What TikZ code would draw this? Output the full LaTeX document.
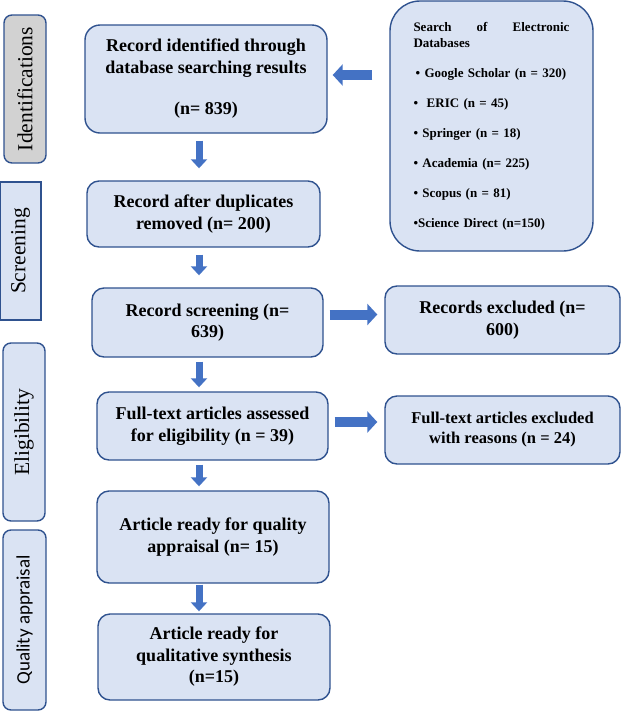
\documentclass[tikz,border=0pt]{standalone}
\usepackage{fontspec}
\setmainfont{Liberation Serif}
\newfontfamily\calibrifont{Carlito}
\usetikzlibrary{positioning,calc,arrows.meta}
\definecolor{BoxBlue}{RGB}{218,227,243}
\definecolor{EdgeBlue}{RGB}{47,82,143}
\definecolor{ArrowBlue}{RGB}{68,114,196}
\definecolor{StageGray}{RGB}{210,210,210}

\begin{document}
\begin{tikzpicture}[
    x=1pt,
    y=-1pt,
    box/.style={
        draw=EdgeBlue,
        line width=1.4pt,
        rounded corners=12pt,
        fill=BoxBlue,
        align=center,
        inner sep=2pt,
        font=\bfseries\fontsize{18}{21.5}\selectfont
    },
    stage/.style={
        draw=EdgeBlue,
        line width=1.4pt,
        rounded corners=8pt,
        fill=BoxBlue,
        rotate=90,
        font=\fontsize{21.5}{24}\selectfont
    },
    blk/.style={
        draw=ArrowBlue,
        line width=7pt,
        -{Triangle[width=16pt,length=9pt]},
        shorten <=4pt,
        shorten >=4pt
    },
    side/.style={
        blk,
        line width=10pt,
        -{Triangle[width=21pt,length=10pt]},
        shorten <=6pt,
        shorten >=7pt
    }
]
\useasboundingbox (0,0) rectangle (641,713);

\node[stage, fill=StageGray, minimum width=148pt, minimum height=42pt] (ident) at (25,89) {Identifications};
\node[stage, sharp corners, minimum width=138pt, minimum height=41pt] (screen) at (20.5,251) {Screening};
\node[stage, minimum width=178pt, minimum height=42pt] (elig) at (24,432) {Eligibility};
\node[stage, minimum width=180pt, minimum height=43pt, font=\calibrifont\fontsize{19}{22}\selectfont] (quality) at (24.5,620) {Quality appraisal};

\node[box, minimum width=242pt, minimum height=108pt, rounded corners=15pt] (found) at (206,79) {Record identified through\\database searching results\\[20pt](n= 839)};
\node[box, minimum width=203pt, minimum height=250pt, rounded corners=30pt, text width=156pt, align=left, font=\bfseries\fontsize{13}{16}\selectfont] (srch) at (491.5,126) {\makebox[156pt][l]{Search\hfill of\hfill Electronic}\\
Databases\\[14pt]
\,\textbullet\ Google Scholar (n = 320)\\[14pt]
\textbullet\ \ ERIC (n = 45)\\[14pt]
\textbullet\ Springer (n = 18)\\[14pt]
\textbullet\ Academia (n= 225)\\[14pt]
\textbullet\ Scopus (n = 81)\\[14pt]
\textbullet Science Direct (n=150)};
\node[box, minimum width=233pt, minimum height=66pt] (dup) at (203.5,214) {Record after duplicates\\removed (n= 200)};
\node[box, minimum width=231pt, minimum height=69pt] (scr) at (207.5,322.5) {Record screening (n=\\639)};
\node[box, minimum width=235pt, minimum height=68pt] (excl) at (502.5,320) {Records excluded (n=\\600)};
\node[box, minimum width=231pt, minimum height=68pt] (full) at (212.5,426) {Full-text articles assessed\\for eligibility (n = 39)};
\node[box, minimum width=235pt, minimum height=68pt, font=\bfseries\fontsize{16.5}{20}\selectfont] (ftex) at (502.5,430) {Full-text articles excluded\\with reasons (n = 24)};
\node[box, minimum width=232pt, minimum height=92pt] (ready) at (213,537) {Article ready for quality\\appraisal (n= 15)};
\node[box, minimum width=232pt, minimum height=86pt] (synth) at (214,657) {Article ready for\\qualitative synthesis\\(n=15)};

\coordinate (axis) at (199,0);
\coordinate (inlet) at ([yshift=4pt]found.east);

\draw[side, shorten <=17pt, shorten >=5pt] (srch.west |- inlet) -- (inlet);
\draw[blk, shorten <=7pt, shorten >=12pt] (axis |- found.south) -- (axis |- dup.north);
\draw[blk, shorten <=7pt, shorten >=12pt] (axis |- dup.south) -- (axis |- scr.north);
\draw[blk] (axis |- scr.south) -- (axis |- full.north);
\draw[blk] (axis |- full.south) -- (axis |- ready.north);
\draw[blk, shorten <=1pt, shorten >=2pt] (axis |- ready.south) -- (axis |- synth.north);
\draw[side] ([yshift=8pt]scr.east) -- ([yshift=8pt]scr.east -| excl.west);
\draw[side] ([yshift=4pt]full.east) -- ([yshift=4pt]full.east -| ftex.west);

\end{tikzpicture}
\end{document}
